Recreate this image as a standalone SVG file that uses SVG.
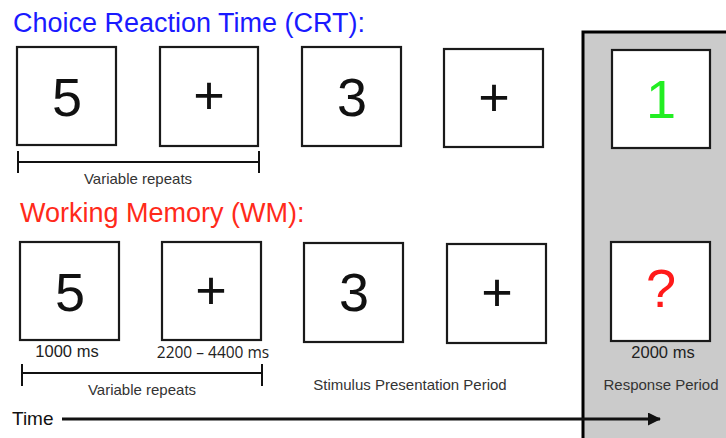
<svg xmlns="http://www.w3.org/2000/svg" width="726" height="438" viewBox="0 0 726 438">
<style>
.box{fill:#fff;stroke:#1a1a1a;stroke-width:2.2}
.big{font-family:"Liberation Sans",Arial,sans-serif;font-size:54px;text-anchor:middle}
.title{font-family:"Liberation Sans",Arial,sans-serif;font-size:27px}
.small{font-family:"Liberation Sans",Arial,sans-serif;font-size:15px;text-anchor:middle;fill:#333}
.ms{font-family:"Liberation Sans",Arial,sans-serif;font-size:16.5px;text-anchor:middle;fill:#222}
.br{stroke:#111;stroke-width:2;fill:none}
</style>
<defs>
<marker id="ah" markerWidth="13" markerHeight="13" refX="12" refY="6.5" orient="auto" markerUnits="userSpaceOnUse">
<path d="M0,0 L13,6.5 L0,13 z" fill="#111"/>
</marker>
</defs>
<rect x="0" y="0" width="726" height="438" fill="#fff"/>
<g id="response-panel">
<rect x="583" y="32" width="145" height="410" fill="#cbcbcb" stroke="#000" stroke-width="3"/>
</g>
<text class="title" x="13" y="32" fill="#1a1aff">Choice Reaction Time (CRT):</text>
<text class="title" x="20" y="222" fill="#ff2a1a">Working Memory (WM):</text>
<g id="crt1"><rect class="box" x="17" y="47" width="99" height="98"/><text class="big" x="67" y="116" fill="#111">5</text></g>
<g id="crt2"><rect class="box" x="160" y="47" width="98" height="99"/><text class="big" x="209" y="114" fill="#111">+</text></g>
<g id="crt3"><rect class="box" x="302" y="47" width="99" height="99"/><text class="big" x="352" y="116" fill="#111">3</text></g>
<g id="crt4"><rect class="box" x="444" y="49" width="99" height="98"/><text class="big" x="494" y="116" fill="#111">+</text></g>
<g id="crt5"><rect class="box" x="612" y="50" width="98" height="98"/><text class="big" x="661" y="118" fill="#22ee22">1</text></g>
<g id="wm1"><rect class="box" x="20" y="242" width="99" height="98"/><text class="big" x="70" y="311" fill="#111">5</text></g>
<g id="wm2"><rect class="box" x="162" y="242" width="99" height="98"/><text class="big" x="211" y="309" fill="#111">+</text></g>
<g id="wm3"><rect class="box" x="304" y="243" width="99" height="99"/><text class="big" x="354" y="311" fill="#111">3</text></g>
<g id="wm4"><rect class="box" x="447" y="244" width="99" height="99"/><text class="big" x="497" y="311" fill="#111">+</text></g>
<g id="wm5"><rect class="box" x="611" y="242" width="99" height="99"/><text class="big" x="661" y="307" fill="#ff1a1a">?</text></g>
<g id="connectors">
<path class="br" d="M18,151 V173 M18,162 H259 M259,151 V173"/>
<path class="br" d="M22,364 V386 M22,373 H262 M262,364 V386"/>
<line x1="62" y1="419" x2="660" y2="419" stroke="#111" stroke-width="3" marker-end="url(#ah)"/>
</g>
<text class="small" x="138" y="184">Variable repeats</text>
<text class="small" x="142" y="395">Variable repeats</text>
<text class="ms" x="67" y="357">1000 ms</text>
<text class="ms" x="213" y="358" style="font-family:'Open Sans','Liberation Sans',sans-serif;font-size:15.5px">2200 – 4400 ms</text>
<text class="ms" x="663" y="358">2000 ms</text>
<text class="small" x="410" y="390">Stimulus Presentation Period</text>
<text class="small" x="661" y="390">Response Period</text>
<text x="12" y="425" font-family="Liberation Sans, Arial, sans-serif" font-size="19" fill="#111">Time</text>
</svg>
